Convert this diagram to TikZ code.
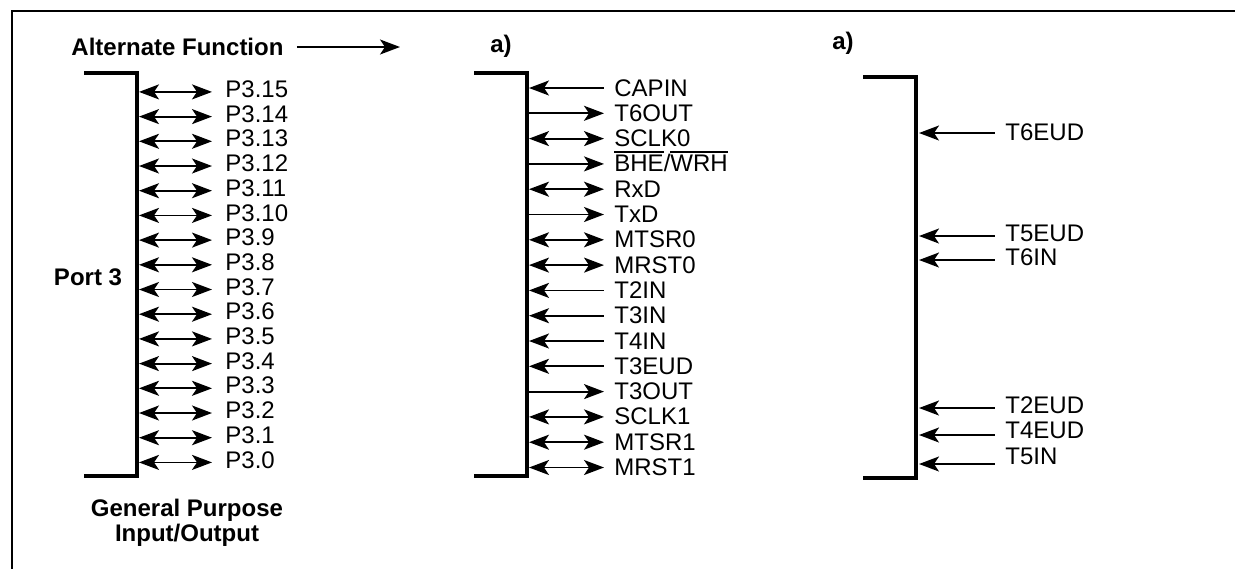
\documentclass[tikz,border=0pt]{standalone}
\usepackage{fontspec}
\setmainfont{Liberation Sans}
\usetikzlibrary{arrows.meta}
\newcommand\barsig[1]{\leavevmode\vbox{\hrule height 0.9pt\kern 1.4pt\hbox{#1}}}

\begin{document}
\begin{tikzpicture}[x=0.5pt,y=-0.5pt,
  >={Stealth[length=10pt,width=7.5pt,inset=2.5pt]},
  frame/.style={line width=1.1pt},
  rail/.style={line width=2pt},
  sig/.style={line width=0.9pt},
  rx/.style={<-},tx/.style={->},io/.style={<->},
  pin/.style={font=\fontsize{12}{14}\selectfont,anchor=base west,inner sep=0pt},
  head/.style={font=\fontsize{12}{12.5}\selectfont\bfseries,inner sep=0pt,align=center}]
  \useasboundingbox (0,0) rectangle (1235,569);
  % outer frame, only top and left edges show
  \draw[frame] (1235,11) -- (12,11) -- (12,569);

  % heading
  \node[head] (alt) at (177.5,47) {Alternate Function};
  \coordinate (altend) at (400,47);
  \draw[sig,->] ([xshift=6.5pt]alt.east) -- (altend);
  \node[head] (amid) at (501,46) {a)};
  \node[head] (aright) at (843,43) {a)};

  % general purpose port
  \coordinate (gtop) at (137,73);
  \coordinate (gbot) at (137,476);
  \draw[rail] (84,73) -- (gtop) -- (gbot) -- (84,476);
  \node[head] (port) at (88,277) {Port 3};
  \node[head] (gpio) at (187,523) {General Purpose\\Input/Output};
  \foreach \n [count=\i from 0] in {15,14,...,0} {
    \node[pin] (p\n) at (225,{97.5+24.7*\i}) {P3.\n};
    \coordinate (pe\n) at ([xshift=-6.5pt,yshift=2.8pt]p\n.base west);
    \draw[sig,io] ([xshift=1pt]gtop |- pe\n) -- (pe\n);
  }

  % first alternate function column
  \coordinate (mtop) at (527,73);
  \coordinate (mbot) at (527,476);
  \draw[rail] (474,73) -- (mtop) -- (mbot) -- (474,476);
  \foreach \lab/\dir [count=\i from 0] in {CAPIN/rx,T6OUT/tx,SCLK0/io,{\barsig{BHE}/\barsig{WRH}}/tx,RxD/io,TxD/tx,MTSR0/io,MRST0/io,T2IN/rx,T3IN/rx,T4IN/rx,T3EUD/rx,T3OUT/tx,SCLK1/io,MTSR1/io,MRST1/io} {
    \node[pin] (m\i) at (614,{96+25.3*\i}) {\lab};
    \coordinate (me\i) at ([xshift=-5pt,yshift=4pt]m\i.base west);
    \draw[sig,\dir] ([xshift=1pt]mtop |- me\i) -- (me\i);
  }

  % second alternate function column
  \coordinate (rtop) at (916,77);
  \coordinate (rbot) at (916,478);
  \draw[rail] (863,77) -- (rtop) -- (rbot) -- (863,478);
  \foreach \yb/\dy/\lab [count=\i] in {140/3.5/T6EUD,241/2.5/T5EUD,265/2.5/T6IN,413/2.5/T2EUD,438/1.5/T4EUD,464/0/T5IN} {
    \node[pin] (r\i) at (1005,\yb) {\lab};
    \coordinate (re\i) at ([xshift=-5pt,yshift=\dy pt]r\i.base west);
    \draw[sig,rx] ([xshift=1.5pt]rtop |- re\i) -- (re\i);
  }
\end{tikzpicture}
\end{document}
